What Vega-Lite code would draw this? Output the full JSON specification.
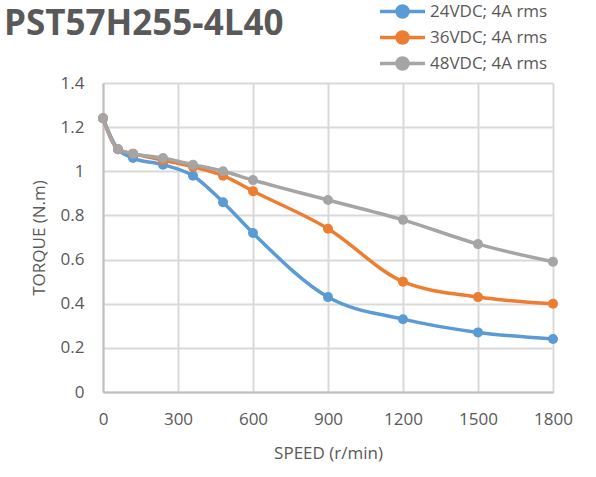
{
  "$schema": "https://vega.github.io/schema/vega-lite/v6.json",
  "width": 450,
  "height": 309,
  "autosize": {"type": "none"},
  "padding": {"left": 103, "top": 83, "right": 43, "bottom": 85},
  "background": "white",
  "title": {
    "text": "PST57H255-4L40",
    "anchor": "start",
    "frame": "group",
    "dx": -99,
    "offset": -39,
    "font": "Open Sans",
    "fontSize": 35,
    "fontWeight": "bold",
    "color": "#595959"
  },
  "config": {
    "view": {"stroke": null},
    "font": "Open Sans",
    "axis": {
      "labelFont": "Open Sans",
      "labelFontSize": 17,
      "labelColor": "#595959",
      "titleFont": "Open Sans",
      "titleFontSize": 17,
      "titleFontWeight": "normal",
      "titleColor": "#595959",
      "gridColor": "#d9d9d9",
      "gridWidth": 2,
      "domainColor": "#bfbfbf",
      "domainWidth": 2,
      "ticks": false
    }
  },
  "data": {
    "values": [
      {"speed": 0, "torque": 1.24, "series": "24VDC; 4A rms"},
      {"speed": 60, "torque": 1.1, "series": "24VDC; 4A rms"},
      {"speed": 120, "torque": 1.06, "series": "24VDC; 4A rms"},
      {"speed": 240, "torque": 1.03, "series": "24VDC; 4A rms"},
      {"speed": 360, "torque": 0.98, "series": "24VDC; 4A rms"},
      {"speed": 480, "torque": 0.86, "series": "24VDC; 4A rms"},
      {"speed": 600, "torque": 0.72, "series": "24VDC; 4A rms"},
      {"speed": 900, "torque": 0.43, "series": "24VDC; 4A rms"},
      {"speed": 1200, "torque": 0.33, "series": "24VDC; 4A rms"},
      {"speed": 1500, "torque": 0.27, "series": "24VDC; 4A rms"},
      {"speed": 1800, "torque": 0.24, "series": "24VDC; 4A rms"},
      {"speed": 0, "torque": 1.24, "series": "36VDC; 4A rms"},
      {"speed": 60, "torque": 1.1, "series": "36VDC; 4A rms"},
      {"speed": 120, "torque": 1.08, "series": "36VDC; 4A rms"},
      {"speed": 240, "torque": 1.05, "series": "36VDC; 4A rms"},
      {"speed": 360, "torque": 1.02, "series": "36VDC; 4A rms"},
      {"speed": 480, "torque": 0.98, "series": "36VDC; 4A rms"},
      {"speed": 600, "torque": 0.91, "series": "36VDC; 4A rms"},
      {"speed": 900, "torque": 0.74, "series": "36VDC; 4A rms"},
      {"speed": 1200, "torque": 0.5, "series": "36VDC; 4A rms"},
      {"speed": 1500, "torque": 0.43, "series": "36VDC; 4A rms"},
      {"speed": 1800, "torque": 0.4, "series": "36VDC; 4A rms"},
      {"speed": 0, "torque": 1.24, "series": "48VDC; 4A rms"},
      {"speed": 60, "torque": 1.1, "series": "48VDC; 4A rms"},
      {"speed": 120, "torque": 1.08, "series": "48VDC; 4A rms"},
      {"speed": 240, "torque": 1.06, "series": "48VDC; 4A rms"},
      {"speed": 360, "torque": 1.03, "series": "48VDC; 4A rms"},
      {"speed": 480, "torque": 1.0, "series": "48VDC; 4A rms"},
      {"speed": 600, "torque": 0.96, "series": "48VDC; 4A rms"},
      {"speed": 900, "torque": 0.87, "series": "48VDC; 4A rms"},
      {"speed": 1200, "torque": 0.78, "series": "48VDC; 4A rms"},
      {"speed": 1500, "torque": 0.67, "series": "48VDC; 4A rms"},
      {"speed": 1800, "torque": 0.59, "series": "48VDC; 4A rms"}
    ]
  },
  "mark": {
    "type": "line",
    "interpolate": "monotone",
    "strokeWidth": 3.5,
    "point": {"filled": true, "size": 100}
  },
  "encoding": {
    "x": {
      "field": "speed",
      "type": "quantitative",
      "title": "SPEED (r/min)",
      "scale": {"domain": [0, 1800], "nice": false},
      "axis": {"values": [0, 300, 600, 900, 1200, 1500, 1800], "format": "d", "labelPadding": 19, "titlePadding": 18, "labelFlush": false}
    },
    "y": {
      "field": "torque",
      "type": "quantitative",
      "title": "TORQUE (N.m)",
      "scale": {"domain": [0, 1.4], "nice": false},
      "axis": {"values": [0, 0.2, 0.4, 0.6, 0.8, 1, 1.2, 1.4], "format": "~g", "labelPadding": 19, "titlePadding": 12, "labelFlush": false}
    },
    "color": {
      "field": "series",
      "type": "nominal",
      "scale": {"range": ["#5B9BD5", "#ED7D31", "#A5A5A5"]},
      "legend": {
        "title": null,
        "orient": "none",
        "legendX": 291,
        "legendY": -80,
        "symbolType": "M-4.5,0L4.5,0M1.1,0A1.1,1.1 0 1,1 -1.1,0A1.1,1.1 0 1,1 1.1,0Z",
        "symbolSize": 100,
        "symbolStrokeWidth": 3.5,
        "labelOffset": 19,
        "labelFont": "Open Sans",
        "labelFontSize": 17,
        "labelColor": "#595959",
        "rowPadding": 1,
        "encode": {
          "symbols": {
            "update": {
              "fill": {"scale": "color", "field": "value"},
              "stroke": {"scale": "color", "field": "value"},
              "opacity": {"value": 1}
            }
          }
        }
      }
    }
  }
}
